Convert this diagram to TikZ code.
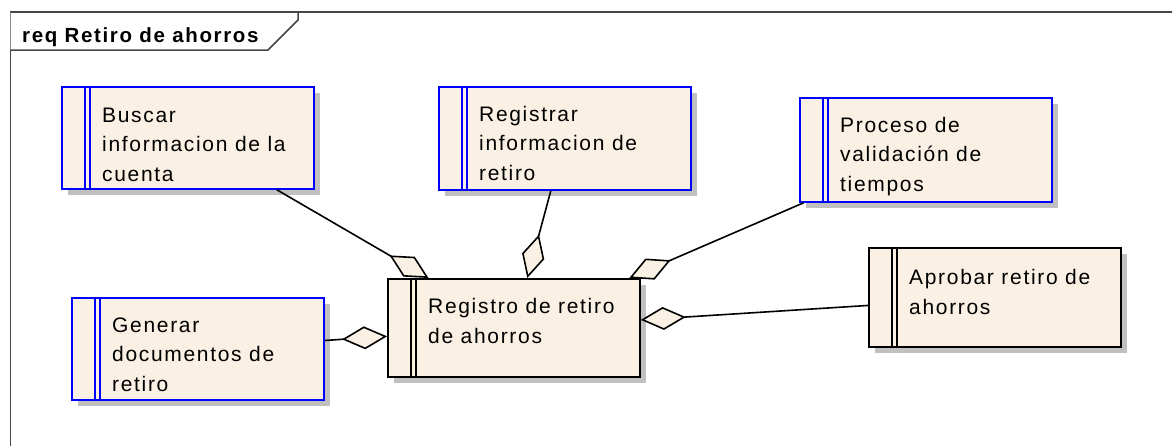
\documentclass[tikz,border=0pt]{standalone}
\usepackage{fontspec}
\setmainfont{Liberation Sans}[LetterSpace=8]
\usepackage{xcolor}
\usetikzlibrary{positioning,arrows.meta,shadows}
\definecolor{reqfill}{RGB}{250,240,227}
\definecolor{shadowgray}{RGB}{192,192,192}
\definecolor{framegray}{RGB}{70,70,70}
\tikzset{
  reqbox/.style={draw=#1, line width=1.8pt, fill=reqfill, inner sep=0pt, minimum width=252pt,
    anchor=north west,
    drop shadow={shadow xshift=6pt, shadow yshift=-6pt, fill=shadowgray, opacity=1},
    path picture={
      \draw[#1, line width=1.4pt]
        ([xshift=23pt]path picture bounding box.north west) -- ([xshift=23pt]path picture bounding box.south west)
        ([xshift=28pt]path picture bounding box.north west) -- ([xshift=28pt]path picture bounding box.south west);
    }},
  reqbox/.default=blue,
  reqtext/.style={anchor=base west, align=left, inner sep=0pt, font=\fontsize{21}{29.5}\selectfont},
  agg/.style={line width=1.6pt, -{Diamond[length=45pt, width=23pt, fill=reqfill]}}
}

\begin{document}
\begin{tikzpicture}[x=1pt, y=-1pt]
        \useasboundingbox (0,0) rectangle (1172,445);
        % frame and tab
        \draw[framegray, line width=1.5pt] (10.5,12) rectangle (1200,470);
        \draw[framegray, line width=1.5pt, fill=white] (10.5,12) -- (298,12) -- (298,20) -- (268,50) -- (10.5,50);
        \node[anchor=base west, inner sep=0pt, font=\bfseries\fontsize{20.5}{24}\selectfont] (title) at (22,42) {req Retiro de ahorros};

        % requirements
        \node[reqbox, minimum height=102pt] (buscar) at (61,86) {};
        \node[reqbox, minimum height=103pt] (registrar) at (438,86) {};
        \node[reqbox, minimum height=104pt] (proceso) at (799,97) {};
        \node[reqbox=black, minimum height=98pt] (registro) at (387,278) {};
        \node[reqbox, minimum height=102pt] (generar) at (71,297) {};
        \node[reqbox=black, minimum height=99pt] (aprobar) at (868,247) {};

        % base of the text = baseline of its last line
        \node[reqtext] (buscar-txt) at ([shift={(41,95)}]buscar.north west) {Buscar\\informacion de la\\cuenta};
        \node[reqtext] (registrar-txt) at ([shift={(41,94)}]registrar.north west) {Registrar\\informacion de\\retiro};
        \node[reqtext] (proceso-txt) at ([shift={(41,94)}]proceso.north west) {Proceso de\\validación de\\tiempos};
        \node[reqtext] (registro-txt) at ([shift={(41,65)}]registro.north west) {Registro de retiro\\de ahorros};
        \node[reqtext] (generar-txt) at ([shift={(41,94)}]generar.north west) {Generar\\documentos de\\retiro};
        \node[reqtext] (aprobar-txt) at ([shift={(41,67)}]aprobar.north west) {Aprobar retiro de\\ahorros};

        % aggregations
        \draw[agg] (buscar) -- (registro);
        \draw[agg] (registrar) -- (registro);
        \draw[agg] (proceso) -- (registro);
        \draw[agg] (generar) -- (registro);
        \draw[agg] (aprobar) -- (registro);
    \end{tikzpicture}
\end{document}
